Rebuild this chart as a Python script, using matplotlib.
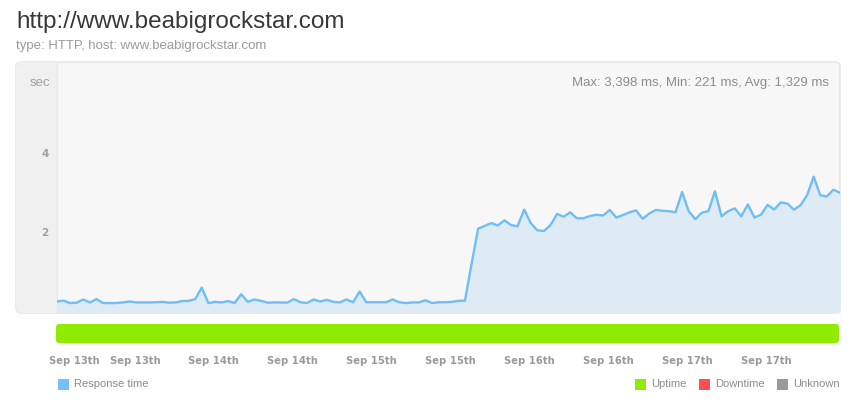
import numpy as np
import matplotlib
matplotlib.use("Agg")
import matplotlib.pyplot as plt
from matplotlib.patches import FancyBboxPatch, Rectangle
from matplotlib.lines import Line2D
import matplotlib.transforms as mtransforms

# response time in seconds, one sample per hour (Sep 13th -> Sep 17th)
low_part = [0.26, 0.28, 0.22, 0.23, 0.31, 0.235, 0.32, 0.22, 0.22, 0.22,
            0.235, 0.26, 0.235, 0.235, 0.235, 0.24, 0.25, 0.23, 0.235, 0.27,
            0.275, 0.32, 0.61, 0.22, 0.25, 0.235, 0.27, 0.221, 0.44, 0.25,
            0.31, 0.275, 0.23, 0.235, 0.235, 0.23, 0.32, 0.24, 0.22, 0.31,
            0.26, 0.30, 0.25, 0.235, 0.31, 0.24, 0.51, 0.24, 0.24, 0.24,
            0.24, 0.31, 0.24, 0.22, 0.235, 0.235, 0.29, 0.22, 0.24, 0.24,
            0.25, 0.275, 0.28]
jump = [1.20]
high_part = [2.09, 2.16, 2.23, 2.17, 2.30, 2.18, 2.15, 2.57, 2.23, 2.05,
             2.03, 2.18, 2.46, 2.39, 2.50, 2.35, 2.35, 2.41, 2.44, 2.42,
             2.56, 2.37, 2.43, 2.50, 2.55, 2.34, 2.47, 2.56, 2.54, 2.53,
             2.50, 3.01, 2.53, 2.33, 2.49, 2.53, 3.03, 2.40, 2.53, 2.60,
             2.40, 2.70, 2.37, 2.44, 2.69, 2.57, 2.75, 2.72, 2.57, 2.68,
             2.93, 3.398, 2.93, 2.90, 3.07, 2.99]
response = np.array(low_part + jump + high_part)
hours = np.arange(len(response))

tick_hours = np.arange(0, 120, 12)
tick_labels = ['Sep 13th', 'Sep 13th', 'Sep 14th', 'Sep 14th', 'Sep 15th',
               'Sep 15th', 'Sep 16th', 'Sep 16th', 'Sep 17th', 'Sep 17th']
y_ticks = [2, 4]
uptime_periods = [(0, len(response) - 1)]

title = 'http://www.beabigrockstar.com'
subtitle = 'type: HTTP, host: www.beabigrockstar.com'
stats = 'Max: 3,398 ms, Min: 221 ms, Avg: 1,329 ms'

W, H = 862, 415
plt.rcParams['font.family'] = ['Liberation Sans', 'DejaVu Sans']
fig = plt.figure(figsize=(W / 100, H / 100), dpi=100)
inch = fig.dpi_scale_trans


def fx(x):
    return x / W


def fy(y):
    return 1 - y / H


# outer chart box (drawn below the axes)
box = FancyBboxPatch((16 / 100, (H - 313) / 100), (840 - 16) / 100, (313 - 62) / 100,
                     boxstyle="round,pad=0,rounding_size=0.05", transform=inch,
                     facecolor='#f7f7f7', edgecolor='#e2e2e2', lw=1, zorder=-3)
fig.patches.append(box)
panel = Rectangle((16 / 100, (H - 313) / 100), (57 - 16) / 100, (313 - 62) / 100,
                  transform=inch, facecolor='#f0f0f0', edgecolor='none', zorder=-2)
panel.set_clip_path(box)
fig.patches.append(panel)
fig.lines.append(Line2D([fx(57), fx(57)], [fy(63), fy(312)], transform=fig.transFigure,
                        color='#e8e8e8', lw=1, zorder=-1))

# main chart
ax = fig.add_axes([fx(57), fy(313), (840 - 57) / W, (313 - 62) / H])
ax.set_facecolor('none')
ax.set_xlim(0, len(response) - 1)
ax.set_ylim(-0.03, 6.28)
ax.fill_between(hours, response, -0.03, color='#deebf5', lw=0, zorder=2)
ax.plot(hours, response, color='#6fbef6', lw=1.7, zorder=3)
for s in ax.spines.values():
    s.set_visible(False)
ax.set_xticks([])
ax.set_yticks(y_ticks)
ax.set_yticklabels([str(v) for v in y_ticks], fontweight='bold', color='#a0a0a0',
                   fontsize=7.5, family='DejaVu Sans')
ax.tick_params(axis='y', length=0, pad=6)

fig.text(fx(50), fy(83), 'sec', ha='right', va='center', fontsize=9.5, color='#a0a0a0')
fig.text(fx(829), fy(83), stats, ha='right', va='center', fontsize=9.5, color='#8c8c8c')

# uptime bar
axb = fig.add_axes([fx(56), fy(343), (839 - 56) / W, 19 / H])
axb.set_xlim(0, len(response) - 1)
axb.set_ylim(0, 1)
axb.set_facecolor('none')
for start, end in uptime_periods:
    axb.add_patch(FancyBboxPatch((start, 0), end - start, 1,
                                 boxstyle="round,pad=0,rounding_size=0.5",
                                 mutation_aspect=0.35, facecolor='#8fec00',
                                 edgecolor='none'))
for s in axb.spines.values():
    s.set_visible(False)
axb.set_yticks([])
axb.set_xticks(tick_hours)
axb.set_xticklabels(tick_labels, fontweight='bold', color='#9a9a9a', fontsize=7.2,
                    family='DejaVu Sans')
axb.tick_params(axis='x', length=0, pad=9)
first = axb.get_xticklabels()[0]
first.set_ha('left')
first.set_transform(first.get_transform() +
                    mtransforms.ScaledTranslation(-7 / 100, 0, inch))

# titles
fig.text(fx(16), fy(22), title, ha='left', va='center', fontsize=17.5, color='#383838')
fig.text(fx(16), fy(46), subtitle, ha='left', va='center', fontsize=9.5, color='#9a9a9a')

# legend
legend_items = [(58, 'Response time', '#74bff7'), (635, 'Uptime', '#8fec00'),
                (699, 'Downtime', '#ff4f4f'), (777, 'Unknown', '#9a9a9a')]
for x0, label, col in legend_items:
    fig.patches.append(Rectangle((x0 / 100, (H - 390) / 100), 11 / 100, 11 / 100,
                                 transform=inch, facecolor=col, edgecolor='none'))
    fig.text(fx(x0 + 16), fy(384), label, ha='left', va='center', fontsize=8,
             color='#8c8c8c')

fig.savefig('out.png', dpi=100)
